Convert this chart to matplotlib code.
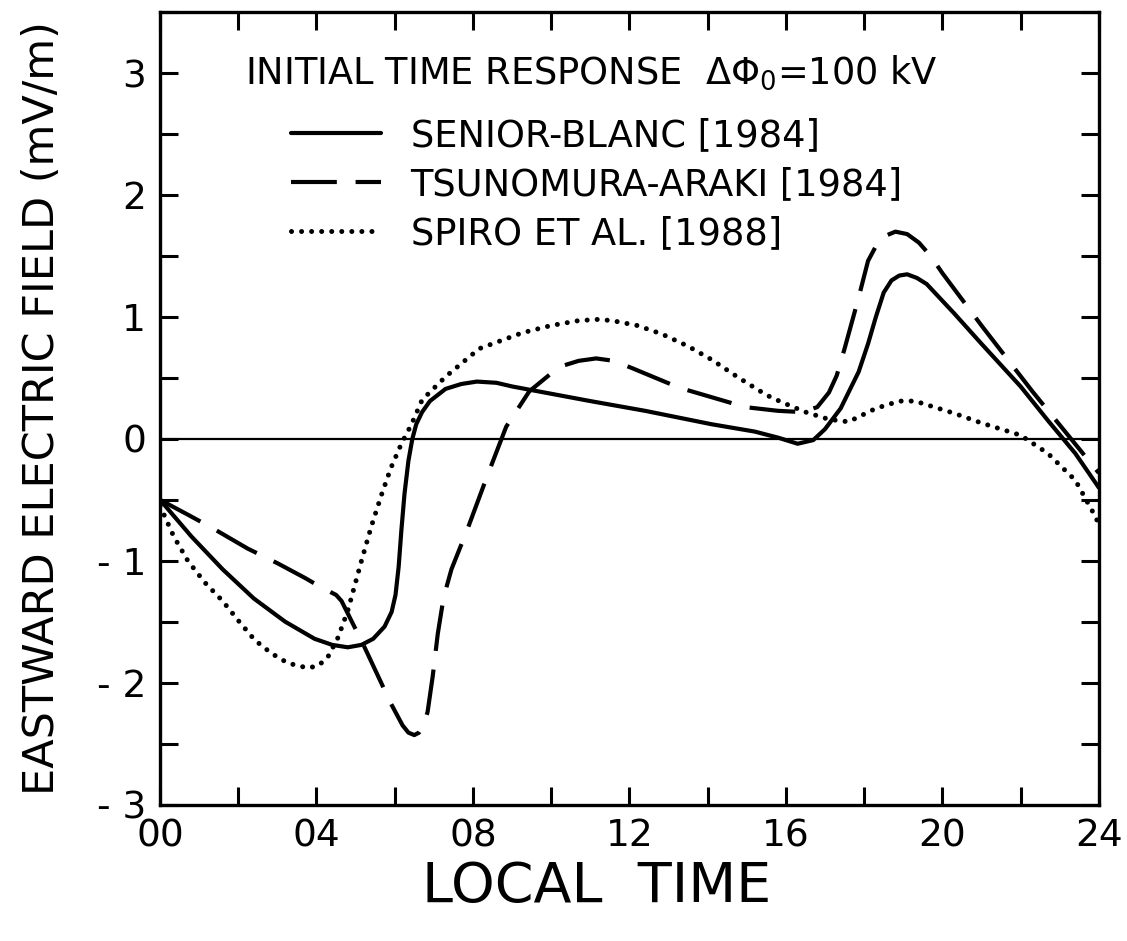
import matplotlib
matplotlib.use("Agg")
import matplotlib.pyplot as plt
from matplotlib.ticker import MultipleLocator, FixedLocator

plt.rcParams['font.family'] = ['DejaVu Sans']
plt.rcParams['mathtext.default'] = 'regular'

# ---- data ----
sb_x = [0, 0.8, 1.6, 2.4, 3.2, 3.95, 4.4, 4.8, 5.15, 5.45, 5.74, 5.92, 6.02, 6.1, 6.17, 6.25,
        6.35, 6.45, 6.55, 6.7, 6.9, 7.3, 7.7, 8.1, 8.6, 9.0, 10.0, 11.0, 12.4, 14.1, 15.2,
        15.8, 16.3, 16.7, 17.0, 17.4, 17.86, 18.1, 18.3, 18.5, 18.7, 18.9, 19.1, 19.35,
        19.6, 20.3, 21.0, 22.0, 22.7, 23.4, 24]
sb_y = [-0.5, -0.8, -1.07, -1.31, -1.50, -1.64, -1.69, -1.71, -1.69, -1.64, -1.54, -1.42,
        -1.28, -1.05, -0.75, -0.45, -0.18, 0.0, 0.12, 0.22, 0.31, 0.41, 0.45, 0.47, 0.46,
        0.43, 0.37, 0.31, 0.23, 0.12, 0.06, 0.01, -0.04, -0.01, 0.08, 0.25, 0.55, 0.78,
        1.0, 1.2, 1.3, 1.34, 1.35, 1.32, 1.27, 1.03, 0.78, 0.43, 0.15, -0.12, -0.4]

ta_x = [0, 0.7, 1.33, 2.24, 3.0, 3.7, 4.13, 4.5, 4.64, 5.2, 5.9, 6.2, 6.35, 6.5, 6.62, 6.74,
        6.84, 6.97, 7.1, 7.25, 7.45, 7.86, 8.37, 8.85, 9.44, 10.2, 10.7, 11.15, 11.6, 12.07,
        13.27, 14.97, 15.8, 16.4, 16.8, 17.1, 17.3, 17.5, 17.86, 18.1, 18.3, 18.5, 18.8,
        19.1, 19.4, 19.7, 20.0, 21.0, 22.3, 24]
ta_y = [-0.5, -0.62, -0.73, -0.90, -1.02, -1.14, -1.22, -1.28, -1.33, -1.69, -2.17, -2.35,
        -2.41, -2.43, -2.41, -2.35, -2.24, -1.95, -1.6, -1.3, -1.07, -0.74, -0.30, 0.10,
        0.39, 0.59, 0.64, 0.66, 0.64, 0.58, 0.42, 0.26, 0.23, 0.22, 0.26, 0.38, 0.52, 0.74,
        1.16, 1.46, 1.58, 1.66, 1.70, 1.68, 1.61, 1.50, 1.36, 0.93, 0.39, -0.28]

sp_x = [0, 0.35, 0.71, 1.15, 1.6, 2.0, 2.42, 2.85, 3.27, 3.78, 4.05, 4.29, 4.55, 4.8, 5.15,
        5.4, 5.66, 5.9, 6.17, 6.43, 6.7, 7.3, 8.16, 9.26, 10.0, 10.7, 11.2, 11.56, 12.2,
        12.83, 13.5, 14.1, 14.8, 15.5, 15.9, 16.5, 17.1, 17.6, 18.3, 18.9, 19.3, 19.7,
        20.3, 21.0, 22.0, 22.7, 23.4, 23.9, 24]
sp_y = [-0.55, -0.8, -1.0, -1.18, -1.33, -1.49, -1.65, -1.76, -1.84, -1.88, -1.86, -1.79,
        -1.63, -1.41, -1.0, -0.72, -0.46, -0.24, -0.04, 0.12, 0.32, 0.51, 0.74, 0.87, 0.93,
        0.97, 0.98, 0.97, 0.93, 0.86, 0.76, 0.65, 0.50, 0.36, 0.30, 0.22, 0.16, 0.14, 0.25,
        0.31, 0.31, 0.27, 0.21, 0.13, 0.03, -0.12, -0.34, -0.63, -0.70]

labels = ['SENIOR-BLANC [1984]', 'TSUNOMURA-ARAKI [1984]', 'SPIRO ET AL. [1988]']
title_text = r'INITIAL TIME RESPONSE  $\Delta\Phi_0$=100 kV'
x_ticks = [0, 4, 8, 12, 16, 20, 24]
x_ticklabels = ['00', '04', '08', '12', '16', '20', '24']
y_ticks = [-3, -2, -1, 0, 1, 2, 3]
y_ticklabels = ['- 3', '- 2', '- 1', '0', '1', '2', '3']

fig = plt.figure(figsize=(11.27, 9.41), dpi=100)
ax = fig.add_axes([0.142, 0.145, 0.833, 0.842])

lw = 3.0
ax.axhline(0, color='black', lw=1.6, zorder=1)
ax.plot(sb_x, sb_y, color='black', lw=lw, solid_capstyle='round', solid_joinstyle='round',
        label=labels[0])
ax.plot(ta_x, ta_y, color='black', lw=lw, linestyle=(0, (11, 4.5)), dash_capstyle='butt',
        dash_joinstyle='round', label=labels[1])
ax.plot(sp_x, sp_y, color='black', lw=3.6, linestyle=(0, (0.01, 2.0)), dash_capstyle='round',
        label=labels[2])

ax.set_xlim(0, 24)
ax.set_ylim(-3, 3.5)
ax.xaxis.set_major_locator(FixedLocator(x_ticks))
ax.set_xticklabels(x_ticklabels)
ax.xaxis.set_minor_locator(MultipleLocator(2))
ax.yaxis.set_major_locator(FixedLocator(y_ticks))
ax.set_yticklabels(y_ticklabels)
ax.yaxis.set_minor_locator(MultipleLocator(0.5))
ax.tick_params(which='both', direction='in', top=True, right=True, width=2.2, length=13,
               labelsize=27, pad=10)
for s in ax.spines.values():
    s.set_linewidth(2.4)

ax.set_xlabel('LOCAL  TIME', fontsize=40, labelpad=4)
ax.xaxis.label.set_x(0.465)
ax.set_ylabel('EASTWARD ELECTRIC FIELD (mV/m)', fontsize=31, labelpad=24)

ax.text(0.090, 0.924, title_text, transform=ax.transAxes, fontsize=26.5, va='center',
        ha='left')
leg = ax.legend(loc='upper left', bbox_to_anchor=(0.112, 0.900), frameon=False,
                fontsize=26.5, handlelength=2.45, handletextpad=0.8, labelspacing=0.32,
                borderpad=0.2)

fig.savefig('out.png', dpi=100)
